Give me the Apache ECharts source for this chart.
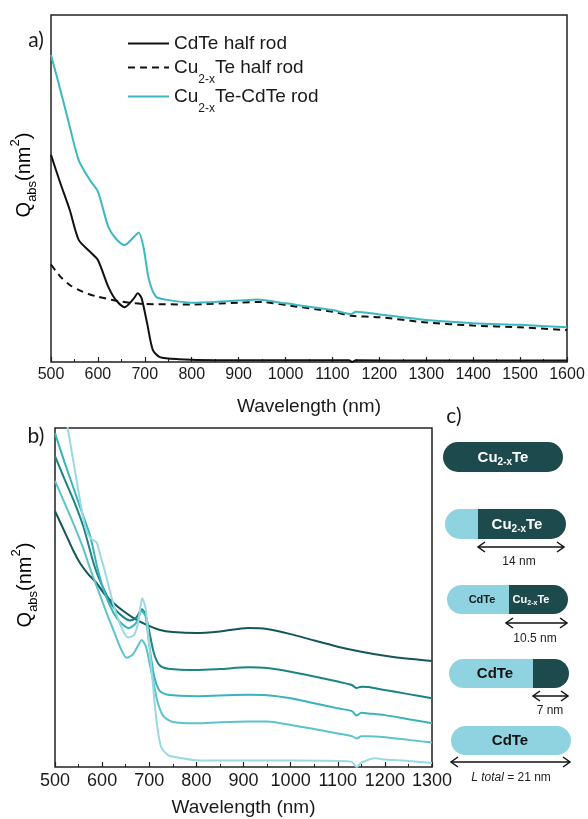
<!DOCTYPE html>
<html><head><meta charset="utf-8">
<script src="https://cdn.jsdelivr.net/npm/echarts@6/dist/echarts.min.js"></script>
<style>html,body{margin:0;padding:0;background:#fff}#c{width:588px;height:819px}</style>
</head><body><div id="c"></div><script>
// ---------- Panel a data ----------
const xTicksA = [500,600,700,800,900,1000,1100,1200,1300,1400,1500,1600];
const wlCdTe = [500,520,540,559,583,600,622,638,657,677,685,693,705,717,732,772,850,1000,1100,1135,1142,1150,1300,1450,1600];
const qCdTe  = [59.7,51.5,43.8,35.2,31.8,29.4,21.7,17.9,15.8,18.4,19.8,18.4,11.1,3.5,1.4,0.8,0.5,0.5,0.5,0.5,0,0.5,0.4,0.4,0.4];
const wlCuTe = [500,520,540,560,580,600,650,700,800,900,950,1000,1100,1140,1200,1300,1400,1500,1600];
const qCuTe  = [28.1,24.6,22.2,20.7,19.6,18.8,17.4,16.7,16.6,17.1,17.3,16.4,14.5,13.3,12.9,11.4,10.5,10,9.2];
const wlRod  = [500,520,540,559,583,600,622,638,657,677,687,697,709,724,748,800,900,940,1000,1100,1140,1150,1200,1300,1400,1500,1600];
const qRod   = [88.5,78.4,67.8,58.2,52.4,49.1,39,35.6,33.7,36.1,37.3,33.2,23.6,18.8,17.9,17.1,17.7,18,16.9,15,13.8,14.5,13.7,12.1,11.2,10.7,10];
const namesA = ['CdTe half rod','Cu2-xTe half rod','Cu2-xTe-CdTe rod'];

// ---------- Panel b data ----------
const xTicksB = [500,600,700,800,900,1000,1100,1200,1300];
const wlB1 = [500,520,540,553,570,588,605,624,645,666,690,723,750,800,850,910,950,1000,1050,1100,1150,1200,1250,1300];
const qB1  = [75.5,69.5,63.5,60.2,57,54.3,51,48.4,46,44,42.2,40.4,39.8,39.5,40,41,40.7,39.2,37.3,35.5,34,32.8,31.9,31.3];
const wlB2 = [500,520,540,560,585,605,624,640,659,672,684,692,700,710,722,740,800,850,910,950,1000,1050,1100,1130,1140,1150,1165,1200,1250,1300];
const qB2  = [91.7,85,78.5,71,58.7,52,47.2,44.8,43.2,44,46.5,45,40,33.5,30,29,28.6,28.9,29.4,29.2,28.1,26.7,25.2,24.2,23.3,23.7,23.6,22.7,21.5,20.3];
const wlB3 = [500,520,540,560,575,590,605,624,640,657,672,684,692,700,710,722,740,800,850,910,950,1000,1050,1100,1130,1140,1150,1165,1200,1250,1300];
const qB3  = [98.5,90,82,74,68,58.7,51.5,45.5,42.5,41,42.5,46,44.5,36,27,22.5,21.3,20.9,21.1,21.3,21.2,20.3,18.8,17.3,16.5,15.2,16,15.8,15.3,14.1,12.9];
const wlB4 = [500,520,540,560,574,588,600,612,624,640,652,665,675,684,693,700,708,718,730,750,800,850,910,950,1000,1050,1100,1130,1140,1150,1165,1200,1250,1300];
const qB4  = [84.4,78,71.5,64.5,58.7,53.5,49,44.5,40.4,34.8,32.2,33.2,35.5,37.5,35.5,31,25.7,19,15,13.3,12.9,13.2,13.4,13.4,12.4,11.2,9.9,9.1,8.4,9.1,9.1,8.8,8,7.2];
const wlB5 = [500,527,545,557,565,575,588,597,604,624,640,655,668,677,685,692,700,708,716,725,740,760,800,850,900,1000,1100,1130,1140,1150,1180,1200,1250,1300];
const qB5  = [125,100,85.3,75.5,70.5,67.5,66.3,62,58.7,48,41.5,38.2,39,43,49.8,47,36,24,13,6,3.5,2.8,2,1.9,1.9,1.9,1.8,1.5,0,1.3,2.6,2.2,1.8,1.2];

// ---------- Panel c labels ----------
const rodLabels = ['Cu2-xTe','Cu2-xTe','CdTe | Cu2-xTe','CdTe','CdTe'];
const lengthLabels = ['14 nm','10.5 nm','7 nm','L total = 21 nm'];

const FONT = 'Liberation Sans';
const pairs = (w, q) => w.map((x, i) => [x, q[i]]);

const colA = ['#111111','#111111','#3cb8c0'];
const colB = ['#15565a','#1b8485','#3ab3bb','#5cc3cb','#9bd9e2'];

function legendRich(name){
  if (name.indexOf('Cu2-x') === 0) return '{m|Cu}{s|2-x}{m|' + name.slice(5) + '}';
  return '{m|' + name + '}';
}
const legRich = {
  m: {fontSize: 19, fontFamily: FONT, color: '#1a1a1a', lineHeight: 22},
  s: {fontSize: 12, fontFamily: FONT, color: '#1a1a1a', lineHeight: 12, padding: [25,0,0,0]}
};
const legTops = [34, 49, 78];
const legends = namesA.map((n, i) => ({
  data: [n], left: 127, top: legTops[i], padding: 0, orient: 'vertical',
  itemWidth: 41, itemHeight: 14, selectedMode: false,
  itemStyle: {opacity: 0, borderWidth: 0},
  formatter: legendRich, textStyle: {rich: legRich}
}));

const qRich = {
  m: {fontSize: 20, fontFamily: FONT, color: '#1a1a1a', lineHeight: 24},
  s: {fontSize: 13, fontFamily: FONT, color: '#1a1a1a', lineHeight: 14, padding: [16,0,0,0]},
  u: {fontSize: 13, fontFamily: FONT, color: '#1a1a1a', lineHeight: 14, padding: [0,0,18,0]}
};
const qText = '{m|Q}{s|abs}{m|(nm}{u|2}{m|)}';

function xAxisCfg(grid, max, fs, gap){
  return {
    type: 'value', gridIndex: grid, min: 500, max: max, interval: 100,
    axisLine: {show: false},
    axisTick: {show: true, inside: true, length: 5, lineStyle: {color: '#222', width: 1.2}},
    minorTick: {show: true, splitNumber: 2, length: 3, lineStyle: {color: '#222', width: 1}},
    splitLine: {show: false},
    axisLabel: {fontSize: fs, fontFamily: FONT, color: '#1a1a1a', margin: 5, showMinLabel: true, showMaxLabel: true,
      formatter: v => String(v)},
    name: 'Wavelength (nm)', nameLocation: 'middle', nameGap: gap,
    nameTextStyle: {fontSize: 19, fontFamily: FONT, color: '#1a1a1a'}
  };
}
function yAxisCfg(grid){
  return {type: 'value', gridIndex: grid, min: 0, max: 100,
    axisLine: {show: false}, axisTick: {show: false}, axisLabel: {show: false}, splitLine: {show: false}};
}
function lineSeries(name, data, color, xi, dashed, w){
  return {
    name: name, type: 'line', xAxisIndex: xi, yAxisIndex: xi, data: data,
    symbol: 'none', smooth: 0.25, clip: true,
    lineStyle: {color: color, width: w || 2, type: dashed ? [7,5] : 'solid'},
    itemStyle: {color: color}, emphasis: {disabled: true}
  };
}

// panel c graphics
const LIGHT = '#8fd3e0', DARK = '#1d4a4c';
const rods = [
  {x:443, y:442, w:120, h:30, split:null, kind:'dark'},
  {x:445, y:509, w:121, h:30, split:478},
  {x:447, y:585, w:121, h:29, split:509},
  {x:449, y:659, w:120, h:29, split:533},
  {x:451, y:726, w:120, h:29, split:null, kind:'light'}
];
const gfx = [];
rods.forEach(r => {
  const R = r.h / 2;
  if (r.split === null) {
    gfx.push({type:'rect', shape:{x:r.x, y:r.y, width:r.w, height:r.h, r:R}, style:{fill: r.kind === 'dark' ? DARK : LIGHT}, silent:true});
  } else {
    gfx.push({type:'rect', shape:{x:r.x, y:r.y, width:r.split - r.x, height:r.h, r:[R,0,0,R]}, style:{fill: LIGHT}, silent:true});
    gfx.push({type:'rect', shape:{x:r.split, y:r.y, width:r.x + r.w - r.split, height:r.h, r:[0,R,R,0]}, style:{fill: DARK}, silent:true});
  }
});
function rodText(x, y, str, color, fs, bold){
  const sfs = Math.round(fs * 0.68);
  return {type:'text', x:x, y:y, silent:true, style:{
    text: str, align:'center', verticalAlign:'middle',
    rich: {
      m: {fontSize: fs, fontWeight: bold ? 'bold' : 'normal', fontFamily: FONT, fill: color, color: color, lineHeight: fs + 2},
      s: {fontSize: sfs, fontWeight: bold ? 'bold' : 'normal', fontFamily: FONT, fill: color, color: color, lineHeight: sfs, padding: [Math.round(fs*0.5),0,0,0]}
    }
  }};
}
gfx.push(rodText(503, 458, '{m|Cu}{s|2-x}{m|Te}', '#ffffff', 15, true));
gfx.push(rodText(517, 525, '{m|Cu}{s|2-x}{m|Te}', '#ffffff', 15, true));
gfx.push(rodText(482, 600, '{m|CdTe}', '#1a1a1a', 11, true));
gfx.push(rodText(531, 600, '{m|Cu}{s|2-x}{m|Te}', '#ffffff', 11, true));
gfx.push(rodText(495, 674, '{m|CdTe}', '#111111', 15, true));
gfx.push(rodText(510, 741, '{m|CdTe}', '#111111', 15, true));

function arrow(x1, x2, y){
  const st = {stroke:'#111', lineWidth:1.5, fill:null};
  gfx.push({type:'polyline', silent:true, shape:{points:[[x1,y],[x2,y]]}, style:st});
  gfx.push({type:'polyline', silent:true, shape:{points:[[x1+7,y-5],[x1,y],[x1+7,y+5]]}, style:st});
  gfx.push({type:'polyline', silent:true, shape:{points:[[x2-7,y-5],[x2,y],[x2-7,y+5]]}, style:st});
}
arrow(478, 564, 547);
arrow(506, 567, 623);
arrow(533, 568, 696);
arrow(451, 570, 762);
const lblPos = [[519,562],[535,639],[550,711],[511,778]];
lengthLabels.forEach((t, i) => {
  if (t.indexOf('L total') === 0) {
    gfx.push({type:'text', x:lblPos[i][0], y:lblPos[i][1], silent:true, style:{
      text:'{i|L total}{n| = 21 nm}', align:'center', verticalAlign:'middle',
      rich:{i:{fontSize:12, fontStyle:'italic', fontFamily:FONT, fill:'#222', color:'#222'},
            n:{fontSize:12, fontFamily:FONT, fill:'#222', color:'#222'}}}});
  } else {
    gfx.push({type:'text', x:lblPos[i][0], y:lblPos[i][1], silent:true, style:{
      text:t, align:'center', verticalAlign:'middle', fontSize:12, fontFamily:FONT, fill:'#222'}});
  }
});
// panel letters
[['a)',36,40],['b)',36,436],['c)',454,416]].forEach(p => {
  gfx.push({type:'text', x:p[1], y:p[2], silent:true, style:{text:p[0], align:'center', verticalAlign:'middle', fontSize:21, fontFamily:'Lato', fill:'#1a1a1a'}});
});
// y-axis titles
[[24,175],[25,585]].forEach(p => {
  gfx.push({type:'text', x:p[0], y:p[1], rotation: Math.PI/2, silent:true, style:{text:qText, align:'center', verticalAlign:'middle', rich:qRich}});
});

const chart = echarts.init(document.getElementById('c'), null, {renderer:'canvas'});
chart.setOption({
  animation: false,
  backgroundColor: '#ffffff',
  legend: legends,
  grid: [
    {left:51, top:15, width:516, height:347, show:true, borderColor:'#222', borderWidth:1.5, backgroundColor:'transparent'},
    {left:55, top:428, width:377, height:339, show:true, borderColor:'#222', borderWidth:1.5, backgroundColor:'transparent'}
  ],
  xAxis: [xAxisCfg(0, 1600, 16, 35), xAxisCfg(1, 1300, 18, 31)],
  yAxis: [yAxisCfg(0), yAxisCfg(1)],
  series: [
    lineSeries(namesA[0], pairs(wlCdTe, qCdTe), colA[0], 0, false),
    lineSeries(namesA[1], pairs(wlCuTe, qCuTe), colA[1], 0, true),
    lineSeries(namesA[2], pairs(wlRod, qRod), colA[2], 0, false),
    lineSeries('b1', pairs(wlB1, qB1), colB[0], 1, false),
    lineSeries('b2', pairs(wlB2, qB2), colB[1], 1, false),
    lineSeries('b3', pairs(wlB3, qB3), colB[2], 1, false),
    lineSeries('b4', pairs(wlB4, qB4), colB[3], 1, false),
    lineSeries('b5', pairs(wlB5, qB5), colB[4], 1, false)
  ],
  graphic: gfx
});
</script></body></html>
